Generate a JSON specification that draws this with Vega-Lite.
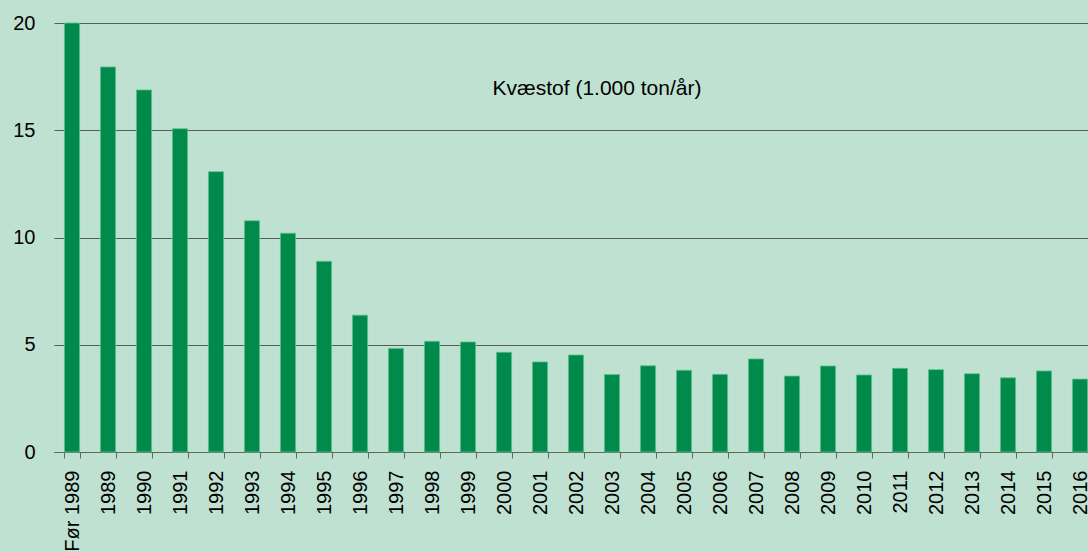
{
  "$schema": "https://vega.github.io/schema/vega-lite/v6.json",
  "width": 1034,
  "height": 429,
  "autosize": {"type": "none"},
  "padding": {"left": 54, "top": 23, "right": 0, "bottom": 100},
  "background": "#bfe1d1",
  "config": {
    "view": {"stroke": null},
    "font": "Liberation Sans",
    "axis": {"labelFont": "Liberation Sans", "labelColor": "#000000"}
  },
  "datasets": {
    "bars": [
      {"year": "Før 1989", "value": 20.0},
      {"year": "1989", "value": 17.95},
      {"year": "1990", "value": 16.88},
      {"year": "1991", "value": 15.07},
      {"year": "1992", "value": 13.07},
      {"year": "1993", "value": 10.78},
      {"year": "1994", "value": 10.2},
      {"year": "1995", "value": 8.89},
      {"year": "1996", "value": 6.38},
      {"year": "1997", "value": 4.83},
      {"year": "1998", "value": 5.16},
      {"year": "1999", "value": 5.13},
      {"year": "2000", "value": 4.65},
      {"year": "2001", "value": 4.2},
      {"year": "2002", "value": 4.52},
      {"year": "2003", "value": 3.61},
      {"year": "2004", "value": 4.02},
      {"year": "2005", "value": 3.81},
      {"year": "2006", "value": 3.62},
      {"year": "2007", "value": 4.34},
      {"year": "2008", "value": 3.54},
      {"year": "2009", "value": 4.01},
      {"year": "2010", "value": 3.59},
      {"year": "2011", "value": 3.9},
      {"year": "2012", "value": 3.84},
      {"year": "2013", "value": 3.65},
      {"year": "2014", "value": 3.46},
      {"year": "2015", "value": 3.78},
      {"year": "2016", "value": 3.4}
    ],
    "note": [
      {"year": "2003", "value": 16.9, "label": "Kvæstof (1.000 ton/år)"}
    ]
  },
  "layer": [
    {
      "data": {"name": "bars"},
      "mark": {"type": "bar", "color": "#008a4b", "stroke": "#5fbf90", "strokeWidth": 0.8},
      "encoding": {
        "x": {
          "field": "year",
          "type": "nominal",
          "sort": null,
          "scale": {"paddingInner": 0.58, "paddingOuter": 0.29, "range": [0, 1044]},
          "axis": {
            "title": null,
            "labelAngle": -90,
            "labelFontSize": 20,
            "labelPadding": 12,
            "tickBand": "extent",
            "tickSize": 6,
            "tickColor": "#666666",
            "domainColor": "#666666",
            "grid": false
          }
        },
        "y": {
          "field": "value",
          "type": "quantitative",
          "scale": {"domain": [0, 20], "nice": false},
          "axis": {
            "title": null,
            "values": [0, 5, 10, 15, 20],
            "labelFontSize": 20,
            "labelPadding": 19,
            "ticks": false,
            "tickSize": 0,
            "domain": false,
            "grid": true,
            "gridColor": "#555f58",
            "gridWidth": 1
          }
        }
      }
    },
    {
      "data": {"name": "note"},
      "mark": {"type": "text", "fontSize": 21, "font": "Liberation Sans", "color": "#000000", "align": "center", "baseline": "middle", "dx": -15},
      "encoding": {
        "x": {"field": "year", "type": "nominal", "sort": null},
        "y": {"field": "value", "type": "quantitative"},
        "text": {"field": "label"}
      }
    }
  ]
}
